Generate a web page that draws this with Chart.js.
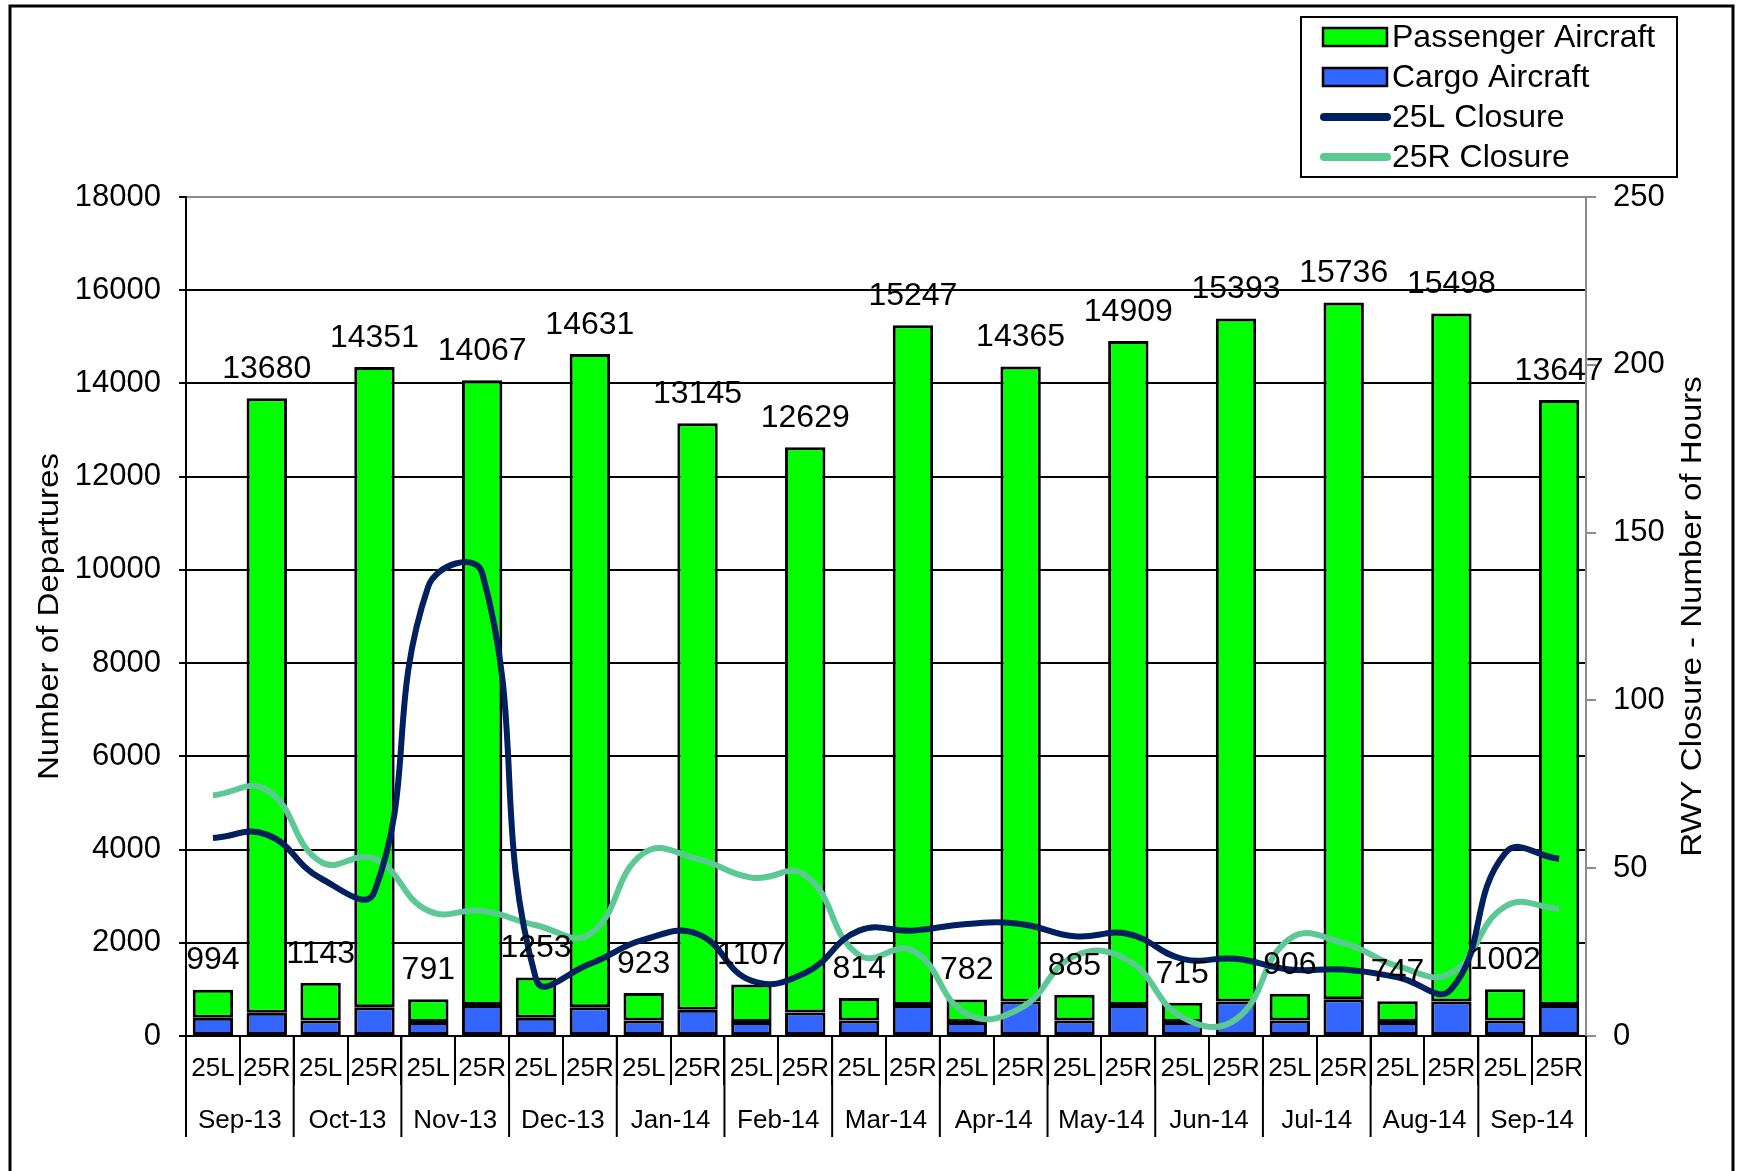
<!DOCTYPE html>
<html>
<head>
<meta charset="utf-8">
<script src="https://cdn.jsdelivr.net/npm/chart.js@4.4.0/dist/chart.umd.min.js"></script>
<style>
  html, body { margin: 0; padding: 0; background: #fff; }
  canvas { display: block; }
</style>
</head>
<body>
<canvas id="myChart" width="1737" height="1171"></canvas>
<script>
// months and runways (two bars per month)
const months = ['Sep-13', 'Oct-13', 'Nov-13', 'Dec-13', 'Jan-14', 'Feb-14', 'Mar-14',
                'Apr-14', 'May-14', 'Jun-14', 'Jul-14', 'Aug-14', 'Sep-14'];
const runways = ['25L', '25R'];

// total departures (labels above the bars)
const total25L = [994, 1143, 791, 1253, 923, 1107, 814, 782, 885, 715, 906, 747, 1002];
const total25R = [13680, 14351, 14067, 14631, 13145, 12629, 15247, 14365, 14909, 15393, 15736, 15498, 13647];

// cargo aircraft (bottom of stack)
const cargo25L = [390, 330, 300, 390, 330, 300, 330, 300, 330, 300, 330, 300, 330];
const cargo25R = [500, 615, 665, 615, 565, 505, 665, 740, 665, 740, 790, 740, 665];

// passenger aircraft (top of stack)
const passenger25L = [604, 813, 491, 863, 593, 807, 484, 482, 555, 415, 576, 447, 672];
const passenger25R = [13180, 13736, 13402, 14016, 12580, 12124, 14582, 13625, 14244, 14653, 14946, 14758, 12982];

// runway closure hours, one point per bar position
const closure25L = [59, 60, 47, 43, 134, 138, 17, 21.5, 28.7, 30.4, 16.5, 18.8, 31.4,
                    31.4, 33.4, 33.4, 29.7, 30.4, 23, 23, 19.8, 19.8, 17.5, 14, 54.5, 52.8];
const closure25R = [71.7, 73.3, 51.9, 52.8, 37.3, 37.3, 33, 30.4, 54.5, 52.8, 47.2, 47.9, 24.1,
                    25.4, 6.6, 8.3, 23.8, 22.5, 5.6, 5, 29, 27.7, 20.8, 18.8, 38.6, 38];

const FONT = '"Liberation Sans", Arial, sans-serif';
const interleave = (a, b) => a.flatMap((v, i) => [v, b[i]]);
const labels = months.flatMap(() => runways);
const totals = interleave(total25L, total25R);

const legendItems = [
  { text: 'Passenger Aircraft', type: 'box', color: '#00ff00' },
  { text: 'Cargo Aircraft', type: 'box', color: '#3366ff' },
  { text: '25L Closure', type: 'line', color: '#002060' },
  { text: '25R Closure', type: 'line', color: '#5cc994' }
];

const extras = {
  id: 'extras',
  afterDatasetsDraw(chart) {
    const { ctx } = chart;
    const meta = chart.getDatasetMeta(1);
    ctx.save();
    ctx.font = '32px ' + FONT;
    ctx.fillStyle = '#000';
    ctx.textAlign = 'center';
    ctx.textBaseline = 'middle';
    totals.forEach((v, i) => {
      const bar = meta.data[i];
      ctx.fillText(String(v), bar.x, bar.y - 29);
    });
    ctx.restore();
  },
  afterDraw(chart) {
    const { ctx, chartArea, scales: { x } } = chart;
    const half = (x.getPixelForValue(1) - x.getPixelForValue(0)) / 2;
    ctx.save();

    // month separators + month labels
    ctx.strokeStyle = '#000';
    ctx.lineWidth = 2;
    for (let m = 0; m <= months.length; m++) {
      const px = m < months.length ? x.getPixelForValue(2 * m) - half : x.getPixelForValue(2 * m - 1) + half;
      ctx.beginPath();
      ctx.moveTo(px, chartArea.bottom);
      ctx.lineTo(px, chartArea.bottom + 101);
      ctx.stroke();
    }
    ctx.font = '26px ' + FONT;
    ctx.fillStyle = '#000';
    ctx.textAlign = 'center';
    ctx.textBaseline = 'middle';
    months.forEach((m, i) => {
      const cx = (x.getPixelForValue(2 * i) + x.getPixelForValue(2 * i + 1)) / 2;
      ctx.fillText(m, cx, chartArea.bottom + 85);
    });

    // axis titles (both read bottom to top)
    const title = (text, cx, cy) => {
      ctx.save();
      ctx.translate(cx, cy);
      ctx.rotate(-Math.PI / 2);
      ctx.scale(1.14, 1);
      ctx.font = '29px ' + FONT;
      ctx.fillText(text, 0, 0);
      ctx.restore();
    };
    title('Number of Departures', 50, (chartArea.top + chartArea.bottom) / 2);
    title('RWY Closure - Number of Hours', 1693, (chartArea.top + chartArea.bottom) / 2);

    // legend
    ctx.lineWidth = 2;
    ctx.strokeStyle = '#000';
    ctx.strokeRect(1301, 17, 376, 160);
    ctx.font = '32px ' + FONT;
    ctx.textAlign = 'left';
    legendItems.forEach((it, i) => {
      const cy = 37 + i * 40;
      if (it.type === 'box') {
        ctx.fillStyle = it.color;
        ctx.fillRect(1323, cy - 9, 64, 18);
        ctx.strokeStyle = '#000';
        ctx.lineWidth = 2.5;
        ctx.strokeRect(1323, cy - 9, 64, 18);
      } else {
        ctx.strokeStyle = it.color;
        ctx.lineWidth = 8;
        ctx.lineCap = 'round';
        ctx.beginPath();
        ctx.moveTo(1324, cy);
        ctx.lineTo(1387, cy);
        ctx.stroke();
        ctx.lineCap = 'butt';
      }
      ctx.fillStyle = '#000';
      ctx.fillText(it.text, 1392, cy + 1);
    });

    // outer frame
    ctx.strokeStyle = '#000';
    ctx.lineWidth = 3;
    ctx.beginPath();
    ctx.moveTo(10, 1171);
    ctx.lineTo(10, 6);
    ctx.lineTo(1733, 6);
    ctx.lineTo(1733, 1171);
    ctx.stroke();
    ctx.restore();
  }
};

new Chart(document.getElementById('myChart'), {
  type: 'bar',
  data: {
    labels: labels,
    datasets: [
      {
        label: 'Cargo Aircraft',
        data: interleave(cargo25L, cargo25R),
        backgroundColor: '#3366ff',
        borderColor: '#000',
        borderWidth: 3,
        borderSkipped: false,
        barPercentage: 0.75,
        categoryPercentage: 1,
        yAxisID: 'y',
        order: 2
      },
      {
        label: 'Passenger Aircraft',
        data: interleave(passenger25L, passenger25R),
        backgroundColor: '#00ff00',
        borderColor: '#000',
        borderWidth: 3,
        borderSkipped: false,
        barPercentage: 0.75,
        categoryPercentage: 1,
        yAxisID: 'y',
        order: 2
      },
      {
        type: 'line',
        label: '25R Closure',
        data: closure25R,
        borderColor: '#5cc994',
        borderWidth: 6,
        pointRadius: 0,
        tension: 0.45,
        yAxisID: 'y1',
        order: 1
      },
      {
        type: 'line',
        label: '25L Closure',
        data: closure25L,
        borderColor: '#002060',
        borderWidth: 6,
        pointRadius: 0,
        tension: 0.45,
        yAxisID: 'y1',
        order: 0
      }
    ]
  },
  options: {
    responsive: false,
    animation: false,
    layout: { padding: { top: 197, left: 0, right: 0, bottom: 0 } },
    plugins: {
      legend: { display: false },
      tooltip: { enabled: false }
    },
    scales: {
      x: {
        stacked: true,
        offset: true,
        afterFit: s => { s.height = 135; },
        grid: { offset: true, drawOnChartArea: false, tickLength: 49, tickColor: '#000', lineWidth: 2 },
        border: { color: '#000', width: 2 },
        ticks: { font: { family: FONT, size: 26 }, color: '#000', padding: -32, autoSkip: false, maxRotation: 0 }
      },
      y: {
        stacked: true,
        position: 'left',
        min: 0,
        max: 18000,
        afterFit: s => { s.width = 186; },
        ticks: { stepSize: 2000, font: { family: FONT, size: 31 }, color: '#000', padding: 18, callback: v => String(v) },
        grid: {
          color: c => (c.tick && c.tick.value === 18000 ? '#8c8c8c' : '#000'),
          lineWidth: 2,
          tickLength: 7,
          tickColor: '#000'
        },
        border: { color: '#000', width: 2 }
      },
      y1: {
        position: 'right',
        min: 0,
        max: 250,
        afterFit: s => { s.width = 151; },
        ticks: { stepSize: 50, font: { family: FONT, size: 31 }, color: '#000', padding: 17, callback: v => String(v) },
        grid: { drawOnChartArea: false, tickLength: 10, tickColor: '#8c8c8c', lineWidth: 2 },
        border: { color: '#8c8c8c', width: 2 }
      }
    }
  },
  plugins: [extras]
});
</script>
</body>
</html>
